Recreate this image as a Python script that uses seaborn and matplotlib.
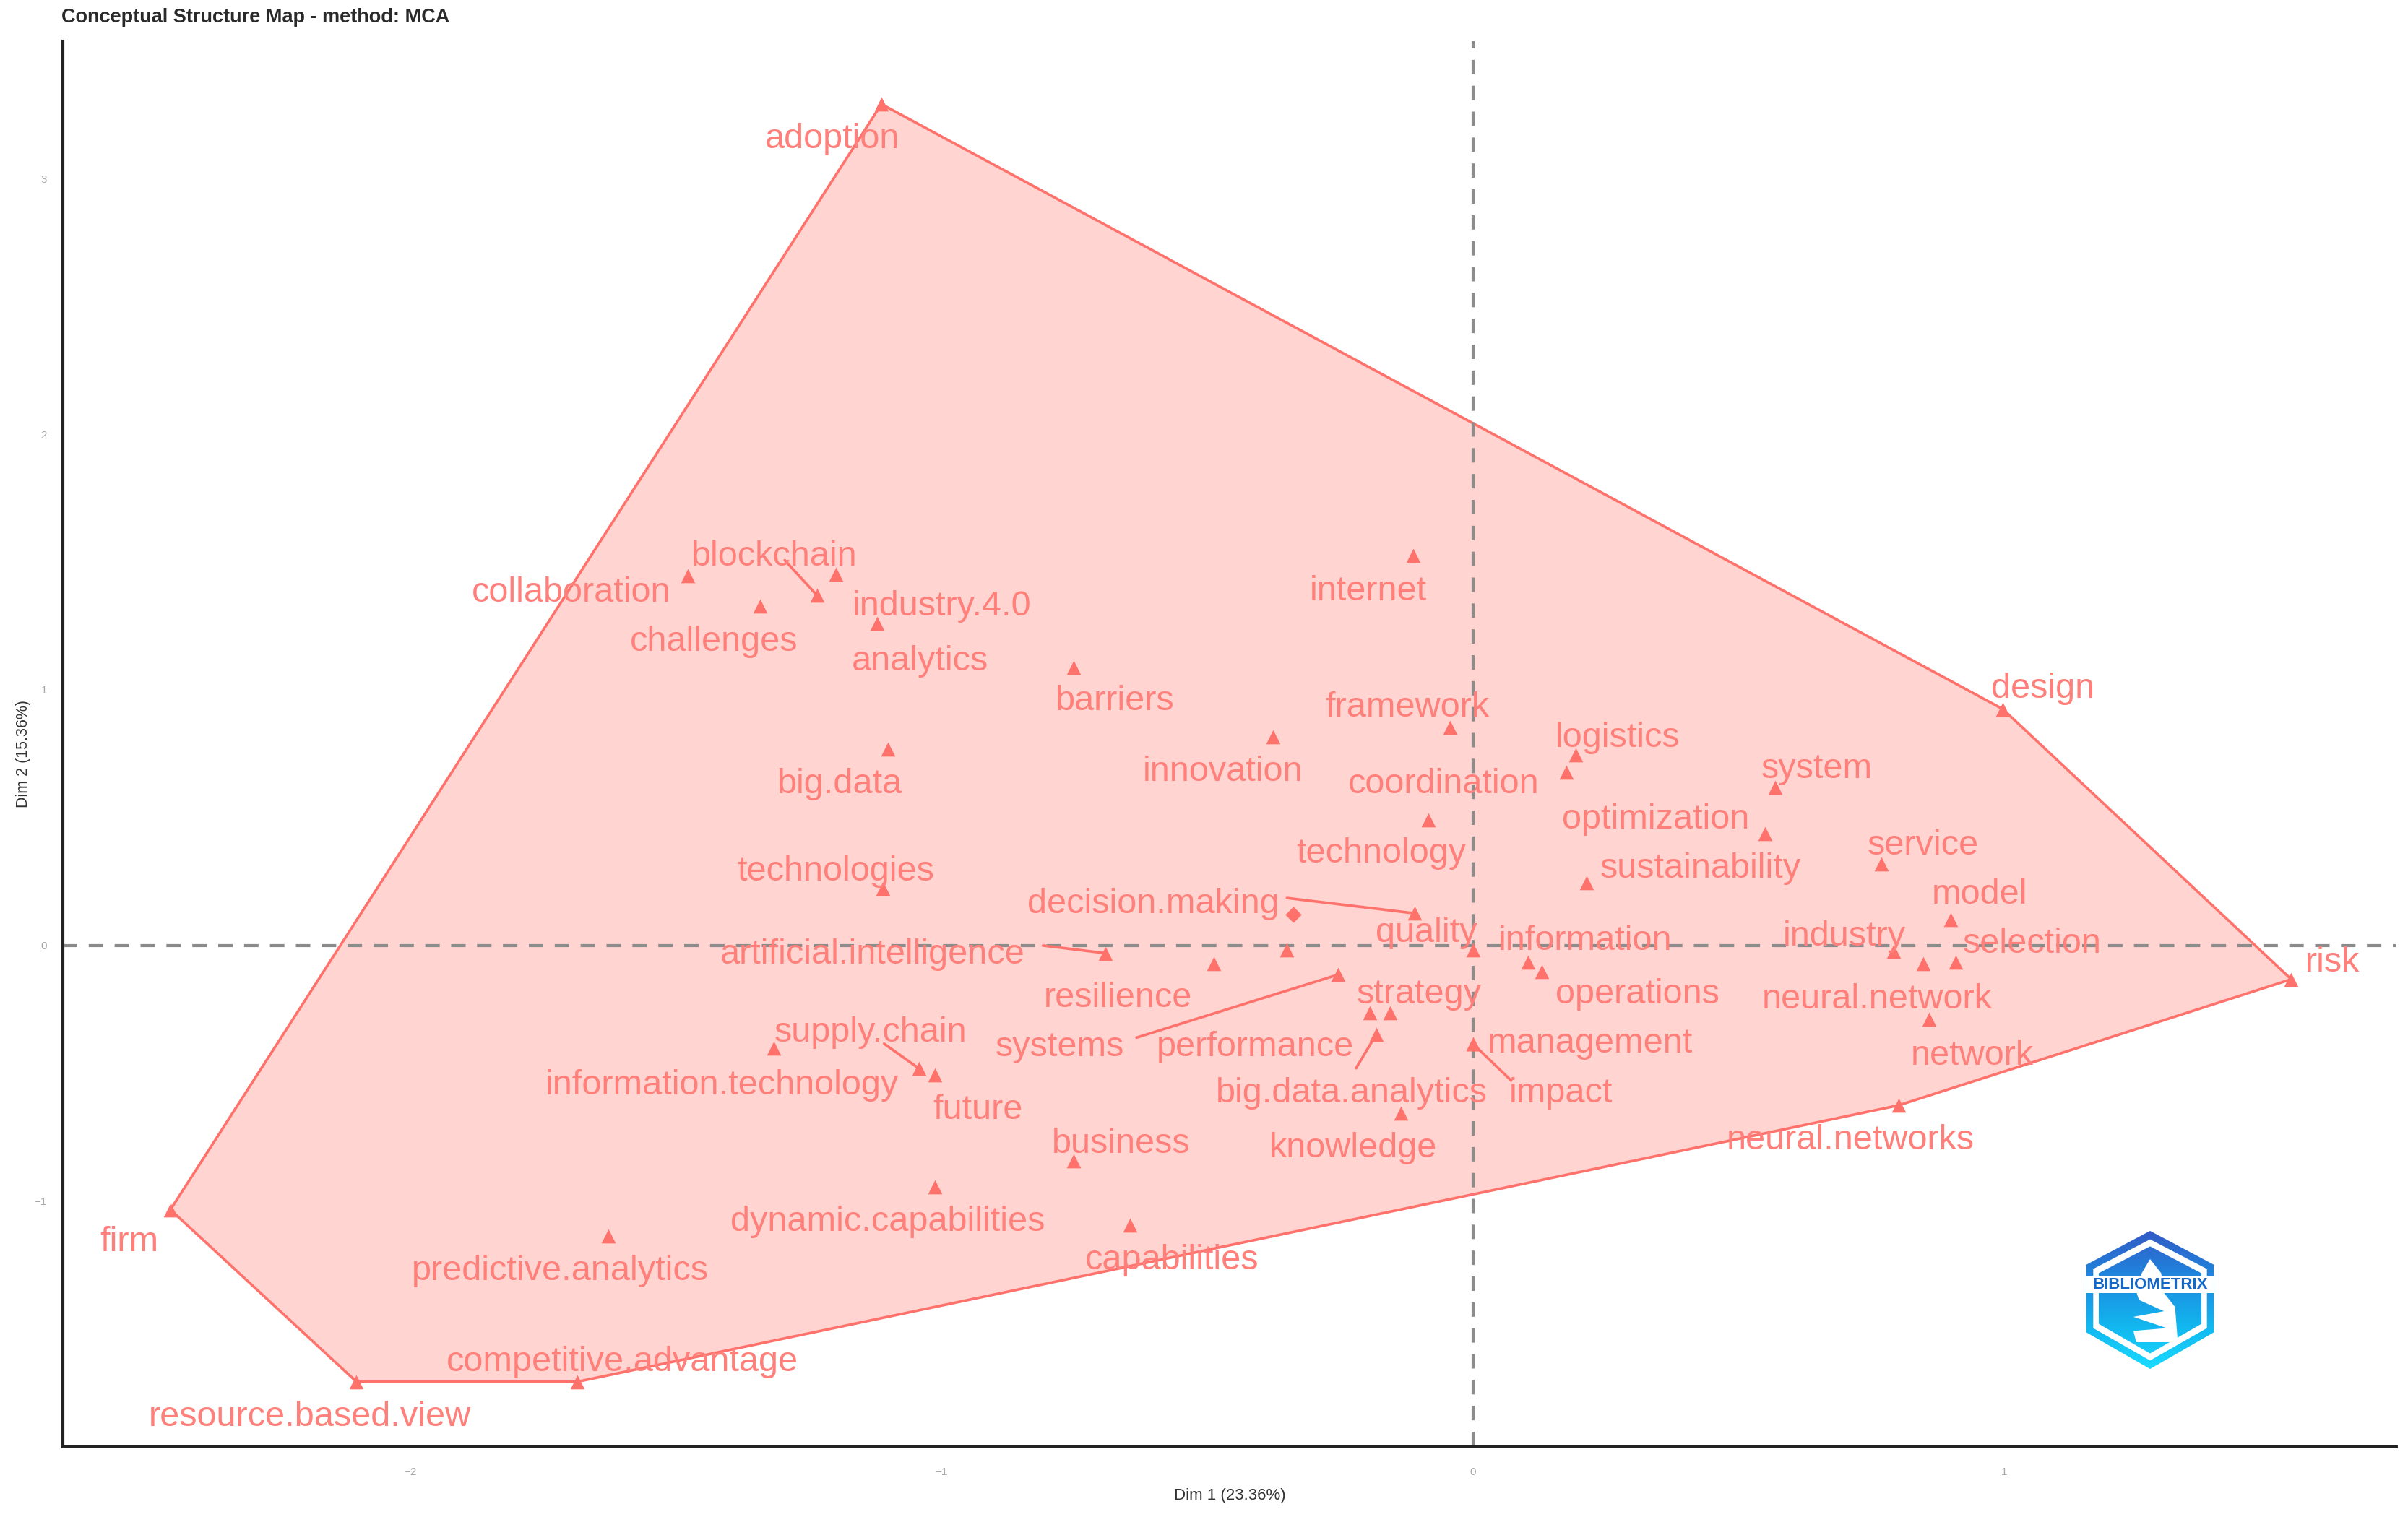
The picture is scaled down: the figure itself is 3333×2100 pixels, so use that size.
import numpy as np
import pandas as pd
import matplotlib.pyplot as plt
from matplotlib.patches import Polygon
import seaborn as sns

sns.set_theme(style="white")
plt.rcParams['font.family'] = ['Liberation Sans', 'DejaVu Sans']

# Word positions on the MCA map
words = ["adoption", "firm", "resource.based.view", "competitive.advantage", "capabilities",
         "neural.networks", "risk", "design", "system", "service", "model", "selection",
         "industry", "neural.network", "network", "optimization", "sustainability", "logistics",
         "coordination", "framework", "technology", "internet", "innovation", "barriers",
         "analytics", "industry.4.0", "blockchain", "collaboration", "challenges", "big.data",
         "technologies", "decision.making", "quality", "artificial.intelligence", "resilience",
         "information", "operations", "strategy", "performance", "systems", "management",
         "impact", "big.data.analytics", "knowledge", "business", "future", "supply.chain",
         "information.technology", "dynamic.capabilities", "predictive.analytics"]
dim1 = [-1.113, -2.451, -2.101, -1.685, -0.645, 0.801, 1.540, 0.997, 0.569, 0.769, 0.899, 0.908,
        0.792, 0.847, 0.858, 0.549, 0.214, 0.194, 0.176, -0.043, -0.084, -0.113, -0.376, -0.751,
        -1.121, -1.199, -1.234, -1.477, -1.341, -1.101, -1.110, -0.110, 0.000, -0.691, -0.488,
        0.104, 0.130, -0.156, -0.194, -0.254, 0.000, 0.000, -0.182, -0.136, -0.751, -1.012,
        -1.043, -1.315, -1.012, -1.627]
dim2 = [3.291, -1.033, -1.706, -1.706, -1.093, -0.625, -0.132, 0.925, 0.619, 0.318, 0.102, -0.066,
        -0.024, -0.072, -0.288, 0.438, 0.246, 0.745, 0.679, 0.853, 0.492, 1.526, 0.817, 1.087,
        1.261, 1.453, 1.369, 1.447, 1.327, 0.769, 0.222, 0.126, -0.018, -0.030, -0.072,
        -0.066, -0.102, -0.264, -0.264, -0.114, -0.384, -0.384, -0.348, -0.655, -0.841, -0.505,
        -0.480, -0.402, -0.943, -1.135]
label_x = [-1.205, -2.529, -2.188, -1.601, -0.566, 0.711, 1.618, 1.072, 0.647, 0.847, 0.954, 1.052,
           0.699, 0.760, 0.939, 0.344, 0.428, 0.272, -0.055, -0.124, -0.173, -0.197, -0.471, -0.673,
           -1.040, -1.000, -1.315, -1.697, -1.428, -1.191, -1.199, -0.601, -0.087, -1.130, -0.668,
           0.211, 0.309, -0.101, -0.410, -0.777, 0.220, 0.165, -0.228, -0.225, -0.662, -0.931,
           -1.133, -1.413, -1.101, -1.717]
label_y = [3.153, -1.159, -1.844, -1.628, -1.231, -0.763, -0.066, 1.003, 0.691, 0.390, 0.198, 0.006,
           0.036, -0.210, -0.432, 0.493, 0.300, 0.811, 0.631, 0.931, 0.360, 1.387, 0.679, 0.955,
           1.111, 1.327, 1.520, 1.381, 1.189, 0.631, 0.288, 0.162, 0.048, -0.036, -0.204,
           0.018, -0.192, -0.192, -0.396, -0.396, -0.384, -0.577, -0.577, -0.793, -0.775, -0.643,
           -0.342, -0.547, -1.081, -1.273]

# Markers without a readable label of their own
extra_dim1 = [-0.338, -0.350]
extra_dim2 = [0.120, -0.018]
extra_marker = ["D", "^"]

# Cluster outline, in drawing order
hull_words = ["adoption", "firm", "resource.based.view", "competitive.advantage",
              "neural.networks", "risk", "design"]

# Repel lines: word, start of the line near the label
link_words = ["blockchain", "decision.making", "artificial.intelligence", "systems",
              "big.data.analytics", "impact", "supply.chain"]
link_x = [-1.295, -0.350, -0.809, -0.633, -0.220, 0.072, -1.108]
link_y = [1.507, 0.186, 0.000, -0.360, -0.480, -0.528, -0.384]

x_ticks = [-2, -1, 0, 1]
y_ticks = [-1, 0, 1, 2, 3]

RED = "#ff716b"
TEXT_RED = "#ff7f7a"
FILL = "#ffd4d1"

df = pd.DataFrame({"word": words, "dim1": dim1, "dim2": dim2, "lx": label_x, "ly": label_y})
pos = df.set_index("word")

fig = plt.figure(figsize=(33.33, 21), dpi=100)
ax = fig.add_axes([0.0262, 0.0467, 0.9688, 0.9263])

hull = pos.loc[hull_words, ["dim1", "dim2"]].values
ax.add_patch(Polygon(hull, closed=True, facecolor=FILL, edgecolor=RED, linewidth=2.6, zorder=1))

ax.axvline(0, color="#8c8c8c", linestyle=(0, (4.8, 3.8)), linewidth=3, zorder=2)
ax.axhline(0, color="#8c8c8c", linestyle=(0, (4.8, 3.8)), linewidth=3, zorder=2)

sns.scatterplot(data=df, x="dim1", y="dim2", marker="^", s=200, color=RED, linewidth=0, ax=ax, zorder=3)
for mx, my, mk in zip(extra_dim1, extra_dim2, extra_marker):
    ax.scatter(mx, my, marker=mk, s=130 if mk == "D" else 200, color=RED, linewidth=0, zorder=3)

for w, sx, sy in zip(link_words, link_x, link_y):
    ax.plot([sx, pos.loc[w, "dim1"]], [sy, pos.loc[w, "dim2"]], color=RED, linewidth=2.6, zorder=3)

for _, row in df.iterrows():
    ax.text(row["lx"], row["ly"], row["word"], color=TEXT_RED, fontsize=35, ha="center", va="center", zorder=4)

ax.set_xlim(-2.653, 1.737)
ax.set_ylim(-1.958, 3.538)
ax.set_xticks(x_ticks)
ax.set_yticks(y_ticks)
ax.tick_params(axis="x", length=0, labelsize=11, labelcolor="#a8a8a8", pad=21)
ax.tick_params(axis="y", length=0, labelsize=11, labelcolor="#a8a8a8", pad=16)
ax.set_xlabel("Dim 1 (23.36%)", fontsize=16, color="#333333", labelpad=11)
ax.set_ylabel("Dim 2 (15.36%)", fontsize=15.5, color="#333333")
ax.yaxis.set_label_coords(-0.0137, 0.4925)
sns.despine(ax=ax)
ax.spines["left"].set_color("#222222")
ax.spines["bottom"].set_color("#222222")
ax.spines["left"].set_linewidth(3)
ax.spines["bottom"].set_linewidth(3.5)

fig.text(0.0255, 0.9885, "Conceptual Structure Map - method: MCA", fontsize=19.5, fontweight="bold",
         color="#2a2a2a", ha="left", va="center")

# Logo, drawn in its own small axes
logo = fig.add_axes([2880 / 3333, 1 - 1897 / 2100, 192 / 3333, 195 / 2100])
logo.set_xlim(0, 1)
logo.set_ylim(0, 1)
logo.axis("off")
grad = np.linspace(0, 1, 256).reshape(-1, 1)
cmap = sns.blend_palette(["#3358c4", "#1f86de", "#12b4ee", "#19dcff"], as_cmap=True)
outer = Polygon([[0.5, 0.99], [0.96, 0.75], [0.96, 0.27], [0.5, 0.01], [0.04, 0.27], [0.04, 0.75]],
                transform=logo.transData, facecolor="none", edgecolor="none")
logo.add_patch(outer)
img = logo.imshow(grad, cmap=cmap, extent=[0, 1, 0, 1], aspect="auto", zorder=1)
img.set_clip_path(outer)
logo.add_patch(Polygon([[0.5, 0.93], [0.91, 0.72], [0.91, 0.30], [0.5, 0.07], [0.09, 0.30], [0.09, 0.72]],
                       facecolor="white", edgecolor="none", zorder=2))
inner = Polygon([[0.5, 0.88], [0.87, 0.69], [0.87, 0.33], [0.5, 0.12], [0.13, 0.33], [0.13, 0.69]],
                transform=logo.transData, facecolor="none", edgecolor="none")
logo.add_patch(inner)
img2 = logo.imshow(grad, cmap=cmap, extent=[0, 1, 0, 1], aspect="auto", zorder=3)
img2.set_clip_path(inner)
logo.add_patch(Polygon([[0.04, 0.67], [0.96, 0.67], [0.96, 0.55], [0.04, 0.55]],
                       facecolor="white", edgecolor="none", zorder=4))
logo.add_patch(Polygon([[0.5, 0.79], [0.58, 0.69], [0.6, 0.55], [0.68, 0.45], [0.7, 0.2], [0.4, 0.2],
                        [0.38, 0.28], [0.62, 0.3], [0.38, 0.38], [0.6, 0.42], [0.42, 0.5], [0.4, 0.56],
                        [0.44, 0.69]], facecolor="white", edgecolor="none", zorder=4))
logo.text(0.5, 0.61, "BIBLIOMETRIX", fontsize=16, fontweight="bold", color="#1668c8",
          ha="center", va="center", zorder=5)
logo.set_xlim(0, 1)
logo.set_ylim(0, 1)

plt.savefig("out.png", dpi=100)
